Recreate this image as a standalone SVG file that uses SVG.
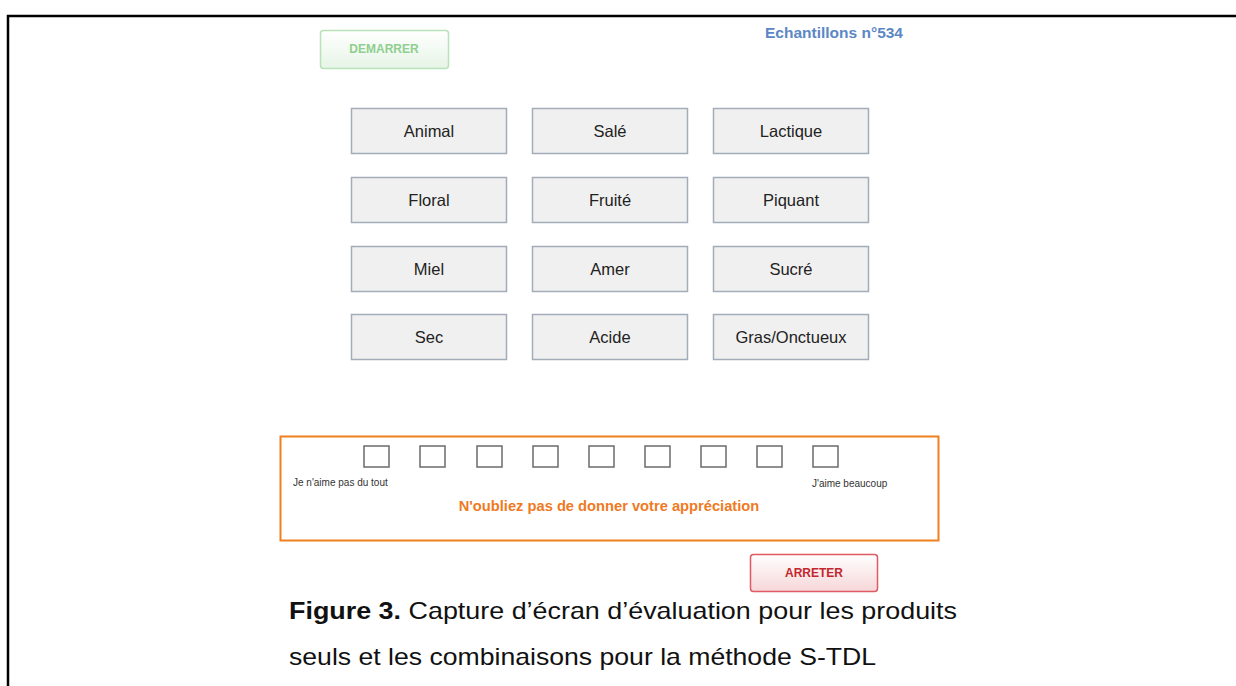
<svg xmlns="http://www.w3.org/2000/svg" width="1236" height="686" viewBox="0 0 1236 686">
<defs>
<linearGradient id="gGreen" x1="0" y1="0" x2="0" y2="1"><stop offset="0" stop-color="#ffffff"/><stop offset="1" stop-color="#e6f4e6"/></linearGradient>
<linearGradient id="gRed" x1="0" y1="0" x2="0" y2="1"><stop offset="0" stop-color="#ffffff"/><stop offset="1" stop-color="#f6d6d8"/></linearGradient>
<style>
.btn{fill:#f0f0f0;stroke:#a3acb9;stroke-width:1.5}
.bl{font-family:"Liberation Sans",Arial,sans-serif;font-size:16.5px;fill:#222;text-anchor:middle}
.cb{fill:#fff;stroke:#6b6b6b;stroke-width:1.5}
.small{font-family:"Liberation Sans",Arial,sans-serif;font-size:10px;fill:#333}
.cap{font-family:"Liberation Sans",Arial,sans-serif;font-size:24px;fill:#111}
</style>
</defs>
<rect width="1236" height="686" fill="#fff"/>
<g id="frame"><path d="M8 686 V16 H1236" fill="none" stroke="#000" stroke-width="2.5"/></g>
<g id="demarrer"><rect x="320.5" y="30.5" width="128" height="38" rx="3" fill="url(#gGreen)" stroke="#b9e2b9" stroke-width="1.5"/><text x="384" y="53" text-anchor="middle" font-family="Liberation Sans,Arial,sans-serif" font-size="12" font-weight="bold" fill="#8fcf8f">DEMARRER</text></g>
<g id="title"><text x="765" y="38" font-family="Liberation Sans,Arial,sans-serif" font-size="15.5" font-weight="bold" fill="#5b87c5">Echantillons n°534</text></g>
<g id="b-animal"><rect class="btn" x="351.5" y="108.5" width="155" height="45"/><text class="bl" x="429" y="137">Animal</text></g>
<g id="b-sale"><rect class="btn" x="532.5" y="108.5" width="155" height="45"/><text class="bl" x="610" y="137">Salé</text></g>
<g id="b-lactique"><rect class="btn" x="713.5" y="108.5" width="155" height="45"/><text class="bl" x="791" y="137">Lactique</text></g>
<g id="b-floral"><rect class="btn" x="351.5" y="177.5" width="155" height="45"/><text class="bl" x="429" y="206">Floral</text></g>
<g id="b-fruite"><rect class="btn" x="532.5" y="177.5" width="155" height="45"/><text class="bl" x="610" y="206">Fruité</text></g>
<g id="b-piquant"><rect class="btn" x="713.5" y="177.5" width="155" height="45"/><text class="bl" x="791" y="206">Piquant</text></g>
<g id="b-miel"><rect class="btn" x="351.5" y="246.5" width="155" height="45"/><text class="bl" x="429" y="275">Miel</text></g>
<g id="b-amer"><rect class="btn" x="532.5" y="246.5" width="155" height="45"/><text class="bl" x="610" y="275">Amer</text></g>
<g id="b-sucre"><rect class="btn" x="713.5" y="246.5" width="155" height="45"/><text class="bl" x="791" y="275">Sucré</text></g>
<g id="b-sec"><rect class="btn" x="351.5" y="314.5" width="155" height="45"/><text class="bl" x="429" y="343">Sec</text></g>
<g id="b-acide"><rect class="btn" x="532.5" y="314.5" width="155" height="45"/><text class="bl" x="610" y="343">Acide</text></g>
<g id="b-gras"><rect class="btn" x="713.5" y="314.5" width="155" height="45"/><text class="bl" x="791" y="343">Gras/Onctueux</text></g>
<g id="rating">
<rect x="280.5" y="436.5" width="658" height="104" fill="#fff" stroke="#f0801f" stroke-width="2"/>
<rect class="cb" x="364" y="446" width="25" height="21"/>
<rect class="cb" x="420" y="446" width="25" height="21"/>
<rect class="cb" x="477" y="446" width="25" height="21"/>
<rect class="cb" x="533" y="446" width="25" height="21"/>
<rect class="cb" x="589" y="446" width="25" height="21"/>
<rect class="cb" x="645" y="446" width="25" height="21"/>
<rect class="cb" x="701" y="446" width="25" height="21"/>
<rect class="cb" x="757" y="446" width="25" height="21"/>
<rect class="cb" x="813" y="446" width="25" height="21"/>
<text class="small" x="293" y="486">Je n'aime pas du tout</text>
<text class="small" x="812" y="487">J'aime beaucoup</text>
<text x="609" y="511" text-anchor="middle" font-family="Liberation Sans,Arial,sans-serif" font-size="14.7" font-weight="bold" fill="#ef7a1f">N'oubliez pas de donner votre appréciation</text>
</g>
<g id="arreter"><rect x="750.5" y="554.5" width="127" height="37" rx="3" fill="url(#gRed)" stroke="#df5a62" stroke-width="1.5"/><text x="814" y="577" text-anchor="middle" font-family="Liberation Sans,Arial,sans-serif" font-size="12" font-weight="bold" fill="#c3262d">ARRETER</text></g>
<g id="caption">
<text class="cap" x="289" y="619" textLength="668" lengthAdjust="spacingAndGlyphs"><tspan font-weight="bold">Figure 3.</tspan> Capture d’écran d’évaluation pour les produits</text>
<text class="cap" x="289" y="665" textLength="587" lengthAdjust="spacingAndGlyphs">seuls et les combinaisons pour la méthode S-TDL</text>
</g>
</svg>
